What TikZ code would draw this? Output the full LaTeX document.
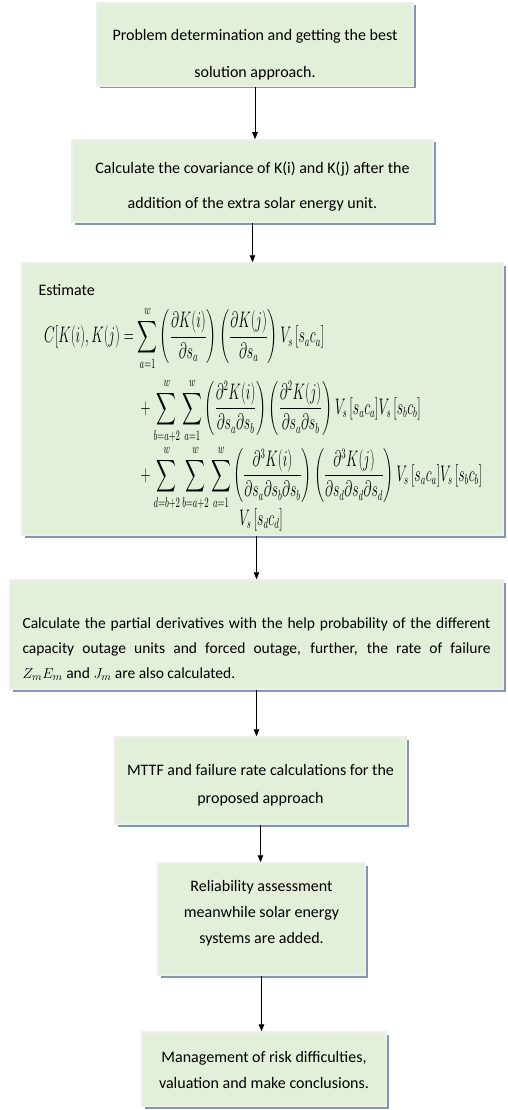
\documentclass[tikz,border=0pt]{standalone}
\usepackage{fontspec}
\setmainfont{Carlito}
\usepackage{amsmath}
\usepackage{graphicx}
\usepackage{tikz}
\usetikzlibrary{arrows.meta,positioning,shadows}
\usepackage{xcolor}
\definecolor{boxgreen}{HTML}{E2EFD9}
\definecolor{boxrim}{HTML}{EEEEEE}
\definecolor{shadowblue}{HTML}{8497B0}
\tikzset{
  stepbox/.style={draw=boxrim,line width=1.5pt,fill=boxgreen,inner sep=0pt,
    drop shadow={shadow xshift=2.5pt,shadow yshift=-2.5pt,fill=shadowblue,opacity=1}},
  steptext/.style={inner sep=0pt,align=center},
  flowarrow/.style={-{Triangle[length=7pt,width=5.5pt]},line width=0.9pt},
}

\begin{document}
\begin{tikzpicture}[x=1pt,y=-1pt,font=\fontsize{16}{26}\selectfont]
\useasboundingbox (0,0) rectangle (507,1110);
\node[stepbox,minimum width=316pt,minimum height=83pt] (prob) at (255,44.5) {};
\node[steptext,font=\fontsize{16}{37}\selectfont] (probtext) at (255,55) {Problem determination and getting the best\\solution approach.};
\node[stepbox,minimum width=361pt,minimum height=82pt] (covar) at (252.5,181) {};
\node[steptext,font=\fontsize{16}{35}\selectfont] (covartext) at (252.5,187) {Calculate the covariance of K(i) and K(j) after the\\addition of the extra solar energy unit.};
\node[stepbox,minimum width=481pt,minimum height=272pt] (estim) at (262.5,399) {};
\node[anchor=base west] (esttext) at (35,295) {Estimate};
\node[anchor=north west,inner sep=0pt] (formula) at (44,306) {\scalebox{0.8}[1.3]{$\begin{aligned}
C[K(i),K(j) &= \sum_{a=1}^{w}\left(\frac{\partial K(i)}{\partial s_a}\right)\left(\frac{\partial K(j)}{\partial s_a}\right)V_s\,[s_a c_a]\\[1.5pt]
&\hphantom{{}={}}+\sum_{b=a+2}^{w}\sum_{a=1}^{w}\left(\frac{\partial^2 K(i)}{\partial s_a\partial s_b}\right)\left(\frac{\partial^2 K(j)}{\partial s_a\partial s_b}\right)V_s\,[s_a c_a]V_s\,[s_b c_b]\\[-3pt]
&\hphantom{{}={}}+\sum_{d=b+2}^{w}\sum_{b=a+2}^{w}\sum_{a=1}^{w}\left(\frac{\partial^3 K(i)}{\partial s_a\partial s_b\partial s_b}\right)\left(\frac{\partial^3 K(j)}{\partial s_d\partial s_d\partial s_d}\right)V_s\,[s_a c_a]V_s\,[s_b c_b]\\[-11pt]
&\hphantom{{}={}+\sum_{d=b+2}\sum_{b=a+2}\sum_{a=1}}\hspace{10pt}V_s\,[s_d c_d]
\end{aligned}$}};
\node[stepbox,minimum width=493pt,minimum height=109pt] (partial) at (256.5,634.5) {};
\node[steptext,text width=468pt,align=justify,font=\fontsize{15.5}{25}\selectfont] (partialtext) at (256.5,649) {Calculate the partial derivatives with the help probability of the different\linebreak capacity outage units and forced outage, further, the rate of failure\linebreak $Z_mE_m$ and $J_m$ are also calculated.};
\node[stepbox,minimum width=291pt,minimum height=87pt] (mttf) at (260.5,780.5) {};
\node[steptext,font=\fontsize{16}{28}\selectfont] (mttftext) at (260.5,785) {MTTF and failure rate calculations for the\\proposed approach};
\node[stepbox,minimum width=207pt,minimum height=112pt] (reliab) at (261.5,919) {};
\node[steptext] (reliabtext) at (261.5,913) {Reliability assessment\\meanwhile solar energy\\systems are added.};
\node[stepbox,minimum width=244pt,minimum height=74pt] (manage) at (264,1069) {};
\node[steptext] (managetext) at (264,1069.5) {Management of risk difficulties,\\valuation and make conclusions.};
\draw[flowarrow] (prob.south) -- (prob.south |- covar.north);
\draw[flowarrow] (covar.south) -- (covar.south |- estim.north);
\draw[flowarrow] (partial.north |- estim.south) -- (partial.north);
\draw[flowarrow] (partial.south) -- (partial.south |- mttf.north);
\draw[flowarrow] (mttf.south) -- (mttf.south |- reliab.north);
\draw[flowarrow] (reliab.south) -- (reliab.south |- manage.north);
\end{tikzpicture}
\end{document}
